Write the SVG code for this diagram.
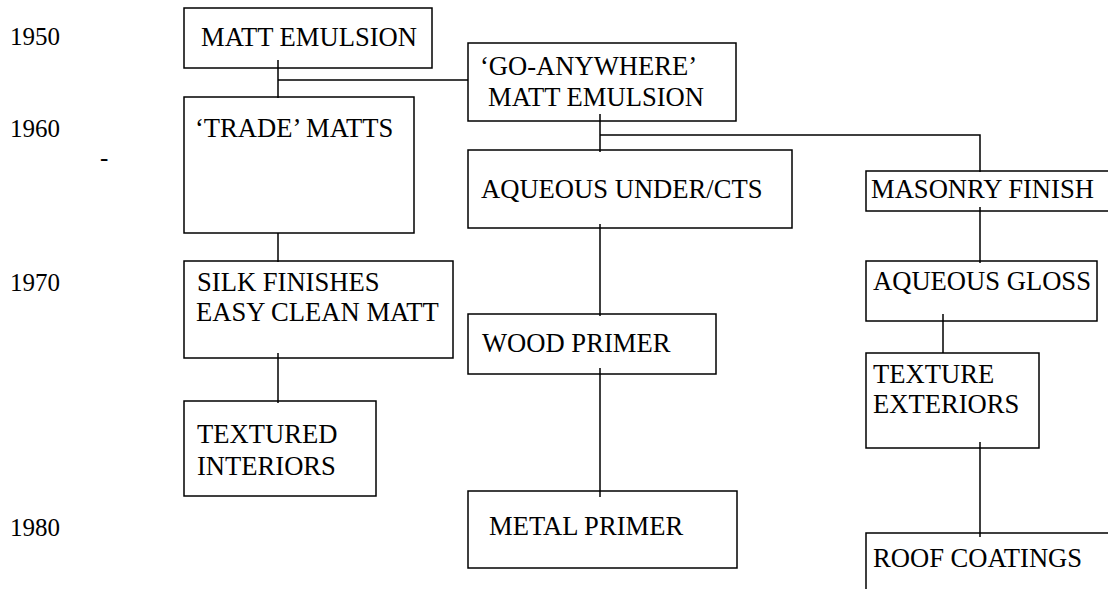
<svg xmlns="http://www.w3.org/2000/svg" width="1108" height="589" viewBox="0 0 1108 589">
<style>
.box{fill:#fff;stroke:#000;stroke-width:1.5}
.ln{fill:none;stroke:#000;stroke-width:1.5}
</style>
<rect width="1108" height="589" fill="#fff"/>
<g font-family="'Liberation Serif', 'Times New Roman', 'DejaVu Serif', serif" font-size="26.6" fill="#000">
<g id="years" font-size="25">
<text x="10" y="45">1950</text>
<text x="10" y="137">1960</text>
<text x="100" y="166">-</text>
<text x="10" y="291">1970</text>
<text x="10" y="536">1980</text>
</g>
<g id="n-matt"><rect class="box" x="184" y="8" width="248" height="60"/><text x="201" y="46">MATT EMULSION</text></g>
<g id="n-go"><rect class="box" x="468" y="43" width="268" height="78"/><text x="480" y="75">‘GO-ANYWHERE’</text><text x="488" y="106">MATT EMULSION</text></g>
<g id="n-trade"><rect class="box" x="184" y="97" width="230" height="136"/><text x="195" y="137">‘TRADE’ MATTS</text></g>
<g id="n-aqu"><rect class="box" x="468" y="150" width="324" height="78"/><text x="481" y="198">AQUEOUS UNDER/CTS</text></g>
<g id="n-mas"><rect class="box" x="866" y="171" width="260" height="40"/><text x="871" y="198">MASONRY FINISH</text></g>
<g id="n-silk"><rect class="box" x="184" y="261" width="269" height="97"/><text x="197" y="291">SILK FINISHES</text><text x="196" y="321">EASY CLEAN MATT</text></g>
<g id="n-gloss"><rect class="box" x="866" y="261" width="231" height="60"/><text x="873" y="290">AQUEOUS GLOSS</text></g>
<g id="n-wood"><rect class="box" x="468" y="314" width="248" height="60"/><text x="482" y="352">WOOD PRIMER</text></g>
<g id="n-tex"><rect class="box" x="866" y="353" width="173" height="95"/><text x="873" y="383">TEXTURE</text><text x="873" y="413">EXTERIORS</text></g>
<g id="n-texint"><rect class="box" x="184" y="401" width="192" height="95"/><text x="197" y="443">TEXTURED</text><text x="197" y="475">INTERIORS</text></g>
<g id="n-metal"><rect class="box" x="468" y="491" width="269" height="77"/><text x="489" y="535">METAL PRIMER</text></g>
<g id="n-roof"><rect class="box" x="866" y="533" width="260" height="70"/><text x="873" y="567">ROOF COATINGS</text></g>
</g>
<g id="connectors">
<path class="ln" d="M278 60V98M278 80H468"/>
<path class="ln" d="M600 114V152M600 135H980V172"/>
<path class="ln" d="M278 233V262"/>
<path class="ln" d="M278 353V403"/>
<path class="ln" d="M600 224V316"/>
<path class="ln" d="M600 368V497"/>
<path class="ln" d="M980 207V263"/>
<path class="ln" d="M943 314V353"/>
<path class="ln" d="M980 442V537"/>
</g>
</svg>
